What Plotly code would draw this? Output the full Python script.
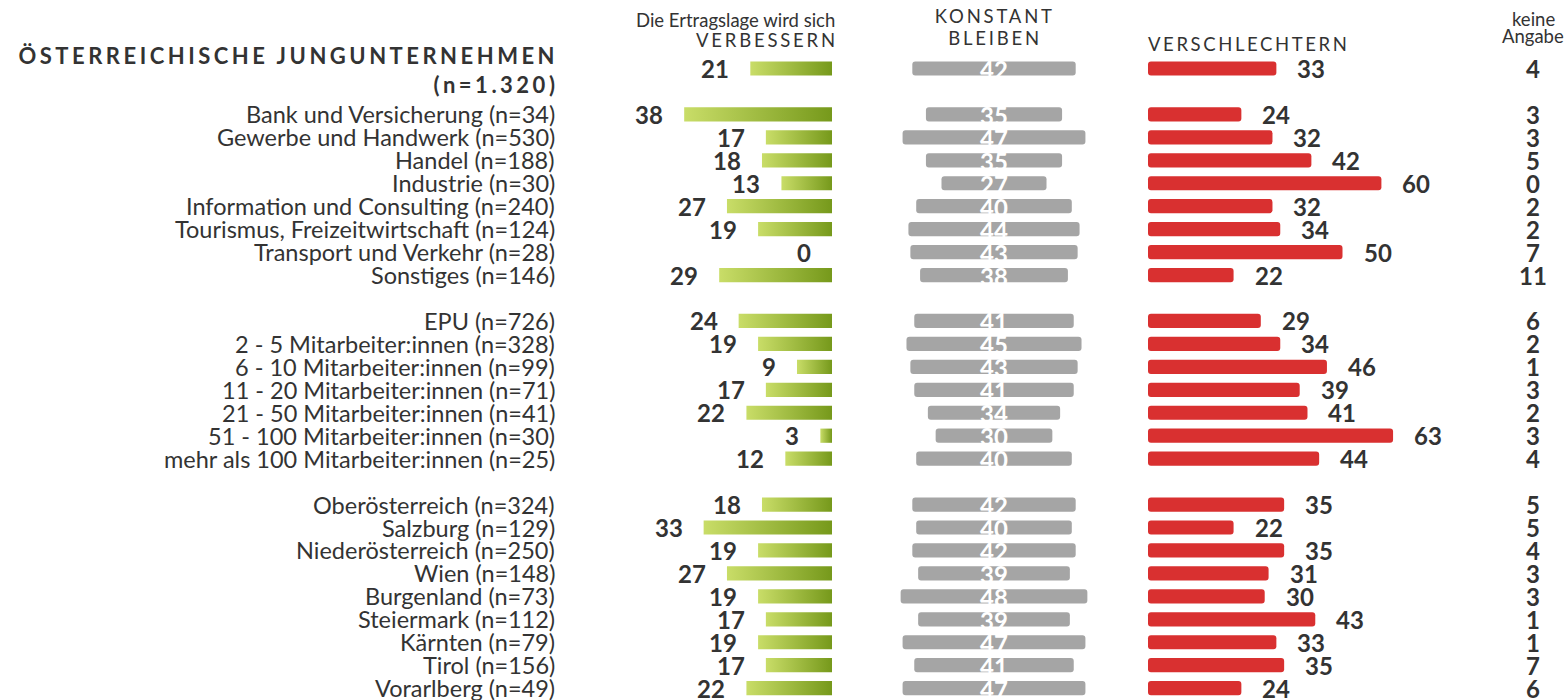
import plotly.graph_objects as go

# ---------------- data ----------------
title_lines = ["ÖSTERREICHISCHE JUNGUNTERNEHMEN", "(n=1.320)"]
total_values = [21, 42, 33, 4]  # verbessern, konstant, verschlechtern, keine Angabe

categories = [
    "Bank und Versicherung (n=34)",
    "Gewerbe und Handwerk (n=530)",
    "Handel (n=188)",
    "Industrie (n=30)",
    "Information und Consulting (n=240)",
    "Tourismus, Freizeitwirtschaft (n=124)",
    "Transport und Verkehr (n=28)",
    "Sonstiges (n=146)",
    "EPU (n=726)",
    "2 - 5 Mitarbeiter:innen (n=328)",
    "6 - 10 Mitarbeiter:innen (n=99)",
    "11 - 20 Mitarbeiter:innen (n=71)",
    "21 - 50 Mitarbeiter:innen (n=41)",
    "51 - 100 Mitarbeiter:innen (n=30)",
    "mehr als 100 Mitarbeiter:innen (n=25)",
    "Oberösterreich (n=324)",
    "Salzburg (n=129)",
    "Niederösterreich (n=250)",
    "Wien (n=148)",
    "Burgenland (n=73)",
    "Steiermark (n=112)",
    "Kärnten (n=79)",
    "Tirol (n=156)",
    "Vorarlberg (n=49)",
]
group_sizes = [8, 7, 9]

verbessern = [38, 17, 18, 13, 27, 19, 0, 29,
              24, 19, 9, 17, 22, 3, 12,
              18, 33, 19, 27, 19, 17, 19, 17, 22]
konstant = [35, 47, 35, 27, 40, 44, 43, 38,
            41, 45, 43, 41, 34, 30, 40,
            42, 40, 42, 39, 48, 39, 47, 41, 47]
verschlechtern = [24, 32, 42, 60, 32, 34, 50, 22,
                  29, 34, 46, 39, 41, 63, 44,
                  35, 22, 35, 31, 30, 43, 33, 35, 24]
keine_angabe = [3, 3, 5, 0, 2, 2, 7, 11,
                6, 2, 1, 3, 2, 3, 4,
                5, 5, 4, 3, 3, 1, 1, 7, 6]

header_verbessern = ["Die Ertragslage wird sich", "VERBESSERN"]
header_konstant = ["KONSTANT", "BLEIBEN"]
header_verschlechtern = "VERSCHLECHTERN"
header_keine = ["keine", "Angabe"]

# ---------------- layout constants ----------------
W, H = 1568, 700
PX = 3.89                 # pixels per percentage point
ROW = 22.95               # pixels per row slot
Y0 = 68.5                 # pixel y of first slot
G_END = 832 / PX          # right end of green bars
C_MID = 994 / PX          # centre of grey bars
R_START = 1148 / PX       # left start of red bars
LABEL_X = 557 / W
KEINE_X = 1533 / W
BAR_H = 0.62

TXT = "#333333"
GREEN_L, GREEN_D = "#c9dd68", "#76991b"
GREY = "#a5a5a5"
RED = "#d93030"
FONT = "Lato"

# slot positions: total at 0, blank slot, groups separated by blank slot
slots = []
s = 2
for n in group_sizes:
    for _ in range(n):
        slots.append(s)
        s += 1
    s += 1

all_slots = [0] + slots
all_g = [total_values[0]] + verbessern
all_k = [total_values[1]] + konstant
all_r = [total_values[2]] + verschlechtern
all_n = [total_values[3]] + keine_angabe

fig = go.Figure()

# green gradient bars (one polygon per bar so each has its own gradient)
for y, v in zip(all_slots, all_g):
    if v <= 0:
        continue
    x0, x1 = G_END - v, G_END
    fig.add_trace(go.Scatter(
        x=[x0, x1, x1, x0, x0],
        y=[y - BAR_H / 2, y - BAR_H / 2, y + BAR_H / 2, y + BAR_H / 2, y - BAR_H / 2],
        mode="lines", fill="toself",
        line=dict(width=0, color="rgba(0,0,0,0)"),
        fillgradient=dict(type="horizontal",
                          colorscale=[[0, GREEN_L], [1, GREEN_D]]),
        hoverinfo="skip", showlegend=False,
    ))

# grey bars centred
fig.add_trace(go.Bar(
    orientation="h", y=all_slots, x=all_k,
    base=[C_MID - v / 2 for v in all_k],
    width=BAR_H, marker=dict(color=GREY, cornerradius=3, line=dict(width=0)),
    hoverinfo="skip", showlegend=False,
))

# red bars
fig.add_trace(go.Bar(
    orientation="h", y=all_slots, x=all_r,
    base=[R_START] * len(all_r),
    width=BAR_H, marker=dict(color=RED, cornerradius=3, line=dict(width=0)),
    hoverinfo="skip", showlegend=False,
))

ann = []
num_font = dict(family=FONT, size=24, color=TXT, weight="bold")

for y, g, k, r, n in zip(all_slots, all_g, all_k, all_r, all_n):
    ann.append(dict(x=G_END - g, y=y, xref="x", yref="y", text=str(g),
                    xanchor="right", yanchor="middle", xshift=-19, yshift=0,
                    showarrow=False, font=num_font))
    ann.append(dict(x=C_MID, y=y, xref="x", yref="y", text=str(k),
                    xanchor="center", yanchor="middle", yshift=-1,
                    showarrow=False,
                    font=dict(family=FONT, size=24, color="white", weight="bold")))
    ann.append(dict(x=R_START + r, y=y, xref="x", yref="y", text=str(r),
                    xanchor="left", yanchor="middle", xshift=19, yshift=0,
                    showarrow=False, font=num_font))
    ann.append(dict(x=KEINE_X, y=y, xref="paper", yref="y", text=str(n),
                    xanchor="center", yanchor="middle", yshift=0,
                    showarrow=False, font=num_font))

for y, c in zip(slots, categories):
    ann.append(dict(x=LABEL_X, y=y, xref="paper", yref="y", text=c,
                    xanchor="right", align="right", yanchor="middle",
                    showarrow=False,
                    font=dict(family=FONT, size=23.5, color=TXT)))

def py(p):
    return 1 - p / H

# title block
ann.append(dict(x=LABEL_X, y=py(56), xref="paper", yref="paper", text=title_lines[0],
                xanchor="right", align="right", yanchor="middle", showarrow=False, xshift=3,
                font=dict(family=FONT, size=22, color=TXT, weight="bold")))
ann.append(dict(x=LABEL_X, y=py(84), xref="paper", yref="paper", text=title_lines[1],
                xanchor="right", align="right", yanchor="middle", showarrow=False, xshift=3,
                font=dict(family=FONT, size=22, color=TXT, weight="bold")))

# column headers
hdr = dict(family=FONT, size=18.5, color=TXT)
ann.append(dict(x=837 / W, y=py(20), xref="paper", yref="paper", text=header_verbessern[0],
                xanchor="right", align="right", yanchor="middle", showarrow=False, font=hdr))
ann.append(dict(x=837 / W, y=py(40), xref="paper", yref="paper", text=header_verbessern[1],
                xanchor="right", align="right", yanchor="middle", showarrow=False, xshift=3,
                font=hdr))
ann.append(dict(x=994 / W, y=py(16), xref="paper", yref="paper", text=header_konstant[0],
                xanchor="center", align="center", yanchor="middle", showarrow=False, xshift=1,
                font=hdr))
ann.append(dict(x=994 / W, y=py(38), xref="paper", yref="paper", text=header_konstant[1],
                xanchor="center", align="center", yanchor="middle", showarrow=False, xshift=1,
                font=hdr))
ann.append(dict(x=1146 / W, y=py(44), xref="paper", yref="paper", text=header_verschlechtern,
                xanchor="left", align="left", yanchor="middle", showarrow=False, font=hdr))
ann.append(dict(x=KEINE_X, y=py(19), xref="paper", yref="paper", text=header_keine[0],
                xanchor="center", align="center", yanchor="middle", showarrow=False, font=hdr))
ann.append(dict(x=KEINE_X, y=py(36), xref="paper", yref="paper", text=header_keine[1],
                xanchor="center", align="center", yanchor="middle", showarrow=False, font=hdr))

fig.update_layout(
    width=W, height=H,
    margin=dict(l=0, r=0, t=0, b=0),
    paper_bgcolor="white", plot_bgcolor="white",
    barmode="overlay",
    xaxis=dict(range=[0, W / PX], visible=False, fixedrange=True),
    yaxis=dict(range=[(H - Y0) / ROW, -Y0 / ROW], visible=False, fixedrange=True),
    annotations=ann,
    font=dict(family=FONT, color=TXT),
)

post = """
document.body.style.margin = '0';
document.body.style.padding = '0';
var gd = document.getElementById('{plot_id}');
var rules = [['JUNGUNTERNEHMEN','3.5px'],['(n=1.320)','3.5px'],['VERBESSERN','2.8px'],
             ['KONSTANT','2.8px'],['BLEIBEN','2.8px'],['VERSCHLECHTERN','2.6px']];
gd.querySelectorAll('text.annotation-text').forEach(function(t){
  var s = t.textContent;
  for (var i = 0; i < rules.length; i++) {
    if (s.indexOf(rules[i][0]) >= 0) { t.style.letterSpacing = rules[i][1]; }
  }
});
"""

fig.write_html("out.html", post_script=post, config={"displayModeBar": False})
